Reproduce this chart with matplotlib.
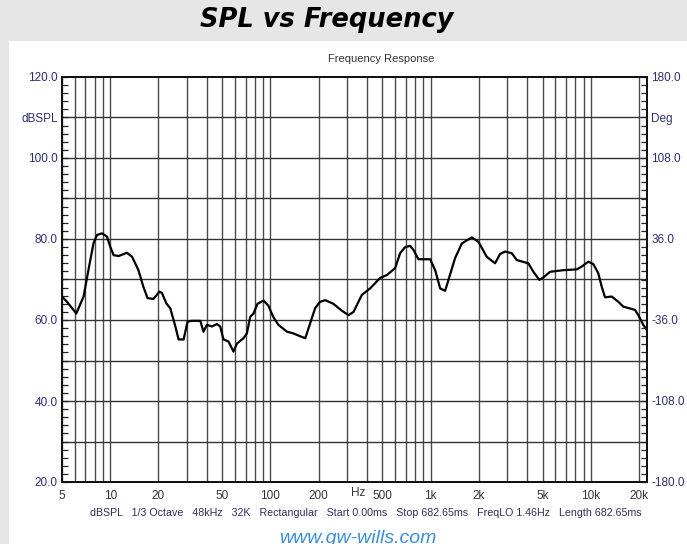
import numpy as np
import matplotlib
matplotlib.use("Agg")
import matplotlib.pyplot as plt
from matplotlib.patches import Rectangle
from matplotlib.ticker import FixedLocator, NullLocator
import matplotlib.transforms as mtransforms

# ---- data ----
freq_hz = [5.0, 5.37, 6.14, 6.82, 7.16, 7.51, 7.87, 8.27, 8.88, 9.54, 10.0, 10.5, 11.3,
           12.7, 13.7, 15.0, 16.1, 17.1, 18.6, 20.3, 21.0, 22.4, 23.7, 25.5, 26.7, 28.7,
           30.4, 32.4, 36.5, 38.2, 40.1, 43.1, 46.3, 48.6, 50.9, 54.7, 58.8, 61.8, 67.9,
           71.3, 74.8, 78.4, 83.0, 90.5, 97.2, 104, 112, 127, 139, 153, 165, 177, 190,
           204, 220, 247, 279, 307, 330, 372, 419, 484, 533, 600, 645, 693, 745, 781,
           839, 993, 1067, 1146, 1231, 1291, 1421, 1565, 1806, 1986, 2240, 2523, 2711,
           2913, 3207, 3446, 4072, 4375, 4769, 5051, 5561, 6730, 8161, 8766, 9641, 10360,
           11130, 11690, 12260, 13490, 14830, 15940, 18850, 19770, 21240, 22400]
spl_db = [65.8, 64.5, 61.6, 65.8, 70.4, 74.8, 79.0, 81.0, 81.4, 80.6, 78.1, 76.0, 75.8,
          76.6, 75.6, 72.3, 68.2, 65.4, 65.2, 67.0, 66.7, 64.1, 62.9, 58.4, 55.2, 55.2,
          59.6, 59.8, 59.8, 57.1, 58.8, 58.4, 59.0, 58.4, 55.2, 54.7, 52.2, 54.2, 55.5,
          56.7, 60.8, 61.6, 64.0, 64.8, 63.5, 60.8, 58.8, 57.1, 56.7, 56.0, 55.5, 59.2,
          62.9, 64.5, 64.9, 64.0, 62.3, 61.2, 62.0, 66.2, 67.8, 70.4, 71.1, 72.8, 76.5,
          78.0, 78.3, 77.3, 75.0, 75.0, 72.3, 67.8, 67.2, 69.9, 75.3, 78.9, 80.4, 79.3,
          75.6, 74.0, 76.3, 76.9, 76.5, 74.8, 74.0, 71.9, 69.9, 70.5, 71.9, 72.3, 72.5,
          73.2, 74.4, 73.8, 71.5, 68.2, 65.6, 65.8, 64.5, 63.3, 62.5, 61.2, 58.8, 57.5]

x_tick_freqs = [5, 10, 20, 50, 100, 200, 500, 1000, 2000, 5000, 10000, 20000]
x_tick_labels = ["5", "10", "20", "50", "100", "200", "500", "1k", "2k", "5k", "10k", "20k"]
left_ticks = [20, 40, 60, 80, 100, 110, 120]
left_labels = ["20.0", "40.0", "60.0", "80.0", "100.0", "dBSPL", "120.0"]
right_ticks = [-180, -108, -36, 36, 108, 144, 180]
right_labels = ["-180.0", "-108.0", "-36.0", "36.0", "108.0", "Deg", "180.0"]
info_line = ("dBSPL   1/3 Octave   48kHz   32K   Rectangular   Start 0.00ms   "
             "Stop 682.65ms   FreqLO 1.46Hz   Length 682.65ms")

plt.rcParams['font.family'] = ['Liberation Sans', 'DejaVu Sans']

W, H = 687, 544
fig = plt.figure(figsize=(W / 100, H / 100), dpi=100)
fig.patch.set_facecolor('#e6e6e6')
# white panel
fig.patches.append(Rectangle((9 / W, 0), 1, 1 - 41 / H, transform=fig.transFigure,
                             facecolor='white', edgecolor='none', zorder=-10))

ax = fig.add_axes([62 / W, 1 - 482 / H, (647 - 62) / W, (482 - 77) / H])
ax.set_zorder(5)
ax.set_facecolor('none')
ax.set_xscale('log')
ax.set_xlim(5, 22400)
ax.set_ylim(20, 120)

# grid lines at every 1..9 multiple
grid_freqs = [m * 10 ** e for e in range(0, 5) for m in range(1, 10)
              if 5 <= m * 10 ** e <= 22400]
for g in grid_freqs:
    ax.axvline(g, color='#4a4a4a', lw=1.0, zorder=1)
for yv in range(30, 120, 10):
    ax.axhline(yv, color='#333333', lw=1.0, zorder=1)

ax.plot(freq_hz, spl_db, color='black', lw=1.6, zorder=3, solid_joinstyle='round')

ax.xaxis.set_major_locator(FixedLocator(x_tick_freqs))
ax.xaxis.set_minor_locator(NullLocator())
ax.set_xticklabels(x_tick_labels)
ax.tick_params(axis='x', which='major', length=0, pad=6, labelsize=8.5, labelcolor='#333333')

ax.yaxis.set_major_locator(FixedLocator(left_ticks))
ax.set_yticklabels(left_labels)
ax.yaxis.set_minor_locator(FixedLocator(list(range(20, 121, 2))))
ax.tick_params(axis='y', which='both', direction='in', length=4, width=0.9,
               color='#222222', labelsize=8.5, labelcolor='#2e2e72', pad=3)

ax2 = ax.twinx()
ax2.set_ylim(-180, 180)
ax2.yaxis.set_major_locator(FixedLocator(right_ticks))
ax2.set_yticklabels(right_labels)
ax2.yaxis.set_minor_locator(FixedLocator(list(np.arange(-180, 180.1, 7.2))))
ax2.tick_params(axis='y', which='both', direction='in', length=4, width=0.9,
                color='#222222', labelsize=8.5, labelcolor='#2e2e72', pad=3)

for a in (ax, ax2):
    for s in a.spines.values():
        s.set_color('#111111')
        s.set_linewidth(1.4)

# "Hz" unit label on x axis
trans = mtransforms.blended_transform_factory(ax.transData, ax.transAxes)
ax.text(355, -0.012, "Hz", transform=trans, ha='center', va='top', fontsize=8.5,
        color='#333333')

fig.text(327 / W, 1 - 20 / H, "SPL vs Frequency", ha='center', va='center',
         fontsize=18.5, fontweight='bold', style='italic', family=['DejaVu Sans'],
         color='black')
fig.text(381 / W, 1 - 59 / H, "Frequency Response", ha='center', va='center',
         fontsize=8, color='#333333')
fig.text(366 / W, 1 - 513 / H, info_line, ha='center', va='center',
         fontsize=7.7, color='#2e2e5e')
fig.text(358 / W, 1 - 530 / H, "www.gw-wills.com", ha='center', va='top',
         fontsize=14, style='italic', color='#3a8fd8')

fig.savefig("out.png", dpi=100, facecolor=fig.get_facecolor())
